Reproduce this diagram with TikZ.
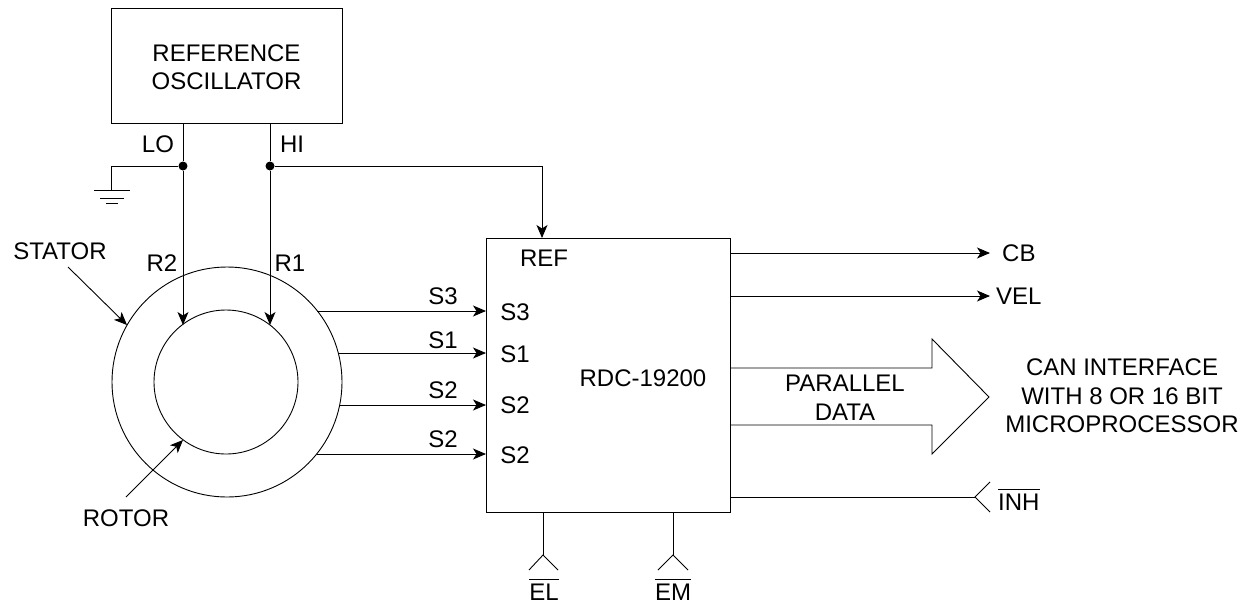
\documentclass[tikz,border=0pt]{standalone}
\usepackage{fontspec}
\setmainfont{Liberation Sans}
\usetikzlibrary{arrows.meta}
\tikzset{
  wire/.style={draw=black,line width=0.9pt},
  arr/.style={wire,-{Stealth[length=13pt,width=11pt,inset=3.5pt]}},
  lbl/.style={inner sep=0pt,font=\fontsize{24}{28.5}\selectfont,text=black,align=center},
  dot/.style={circle,fill=black,inner sep=0pt,minimum size=9pt},
  box/.style={draw=black,line width=0.9pt,fill=none}
}
\newcommand{\barred}[1]{\raisebox{0pt}{$\overline{\mbox{\rule{0pt}{19.5pt}#1}}$}}
\begin{document}
\begin{tikzpicture}[x=1pt,y=-1pt]
\useasboundingbox (0,0) rectangle (1250,606);
\node[box,minimum width=231pt,minimum height=115pt,inner sep=0pt] (osc) at (226.5,65.5) {};
\node[lbl] (osct) at (226.5,67) {REFERENCE\\OSCILLATOR};
\node[box,minimum width=244pt,minimum height=274pt,inner sep=0pt] (rdc) at (608,375) {};
\node[lbl] (rdct) at (643,378) {RDC-19200};
\node[circle,box,minimum size=230pt,inner sep=0pt] (stator) at (227,382) {};
\node[circle,box,minimum size=144pt,inner sep=0pt] (rotor) at (226,382) {};
% oscillator lines
\coordinate (loO) at (183,123); \coordinate (hiO) at (270,123);
\node[dot] (jlo) at (183,166) {};
\node[dot] (jhi) at (270,166) {};
\coordinate (r2) at (183,325); \coordinate (r1) at (270,325);
\draw[wire] (loO) -- (jlo);
\draw[wire] (hiO) -- (jhi);
\draw[arr] (jlo) -- (r2);
\draw[arr] (jhi) -- (r1);
\coordinate (gnd) at (111,190.5);
\draw[wire] (jlo) -- (111,166) -- (gnd);
\draw[wire] (94,190.5) -- (130,190.5);
\draw[wire] (100,198) -- (124,198);
\draw[wire] (106,203) -- (118,203);
\coordinate (refin) at (542,238);
\draw[arr] (jhi) -- (542,166) -- (refin);
\node[lbl] (lo) at (158,144) {LO};
\node[lbl] (hi) at (292,144) {HI};
\node[lbl] (r2t) at (162,263) {R2};
\node[lbl] (r1t) at (290,263) {R1};
\node[lbl] (reft) at (544,258) {REF};
% stator / rotor pointers
\node[lbl] (statt) at (60,251) {STATOR};
\node[lbl] (rott) at (126,518) {ROTOR};
\coordinate (sp1) at (68,267); \coordinate (sp2) at (127,325);
\coordinate (rp1) at (126,497); \coordinate (rp2) at (183,440);
\draw[arr] (sp1) -- (sp2);
\draw[arr] (rp1) -- (rp2);
% S lines
\coordinate (a1) at (317,311); \coordinate (b1) at (486,311);
\coordinate (a2) at (339,353); \coordinate (b2) at (486,353);
\coordinate (a3) at (340,405); \coordinate (b3) at (486,405);
\coordinate (a4) at (317,454); \coordinate (b4) at (486,454);
\draw[arr] (a1) -- (b1);
\draw[arr] (a2) -- (b2);
\draw[arr] (a3) -- (b3);
\draw[arr] (a4) -- (b4);
\node[lbl] at (443,296) {S3};
\node[lbl] at (443,340) {S1};
\node[lbl] at (443,390) {S2};
\node[lbl] at (443,439) {S2};
\node[lbl] at (515,312) {S3};
\node[lbl] at (515,354) {S1};
\node[lbl] at (515,405) {S2};
\node[lbl] at (515,455) {S2};
% outputs
\coordinate (cbA) at (730,253); \coordinate (cbB) at (990,253);
\coordinate (velA) at (730,296); \coordinate (velB) at (990,296);
\draw[arr] (cbA) -- (cbB);
\draw[arr] (velA) -- (velB);
\node[lbl,anchor=west] at (1002,253) {CB};
\node[lbl,anchor=west] at (996,296) {VEL};
\draw[wire] (730,368) -- (932,368) -- (932,339) -- (989,397) -- (932,454) -- (932,425) -- (730,425);
\node[lbl] at (845,397.5) {PARALLEL\\DATA};
\node[lbl] at (1122,396) {CAN INTERFACE\\WITH 8 OR 16 BIT\\MICROPROCESSOR};
\coordinate (inhA) at (730,497); \coordinate (inhB) at (975,497);
\draw[wire] (inhA) -- (inhB);
\draw[wire] (990,482) -- (inhB) -- (990,512);
\node[lbl,anchor=base west] at (998,510) {\barred{INH}};
\coordinate (elA) at (543,512); \coordinate (elB) at (543,555);
\draw[wire] (elA) -- (elB);
\draw[wire] (529,570) -- (elB) -- (558,570);
\coordinate (emA) at (673,512); \coordinate (emB) at (673,555);
\draw[wire] (emA) -- (emB);
\draw[wire] (658,570) -- (emB) -- (688,570);
\node[lbl,anchor=base] at (544,600) {\barred{EL}};
\node[lbl,anchor=base] at (673,600) {\barred{EM}};
\end{tikzpicture}
\end{document}
